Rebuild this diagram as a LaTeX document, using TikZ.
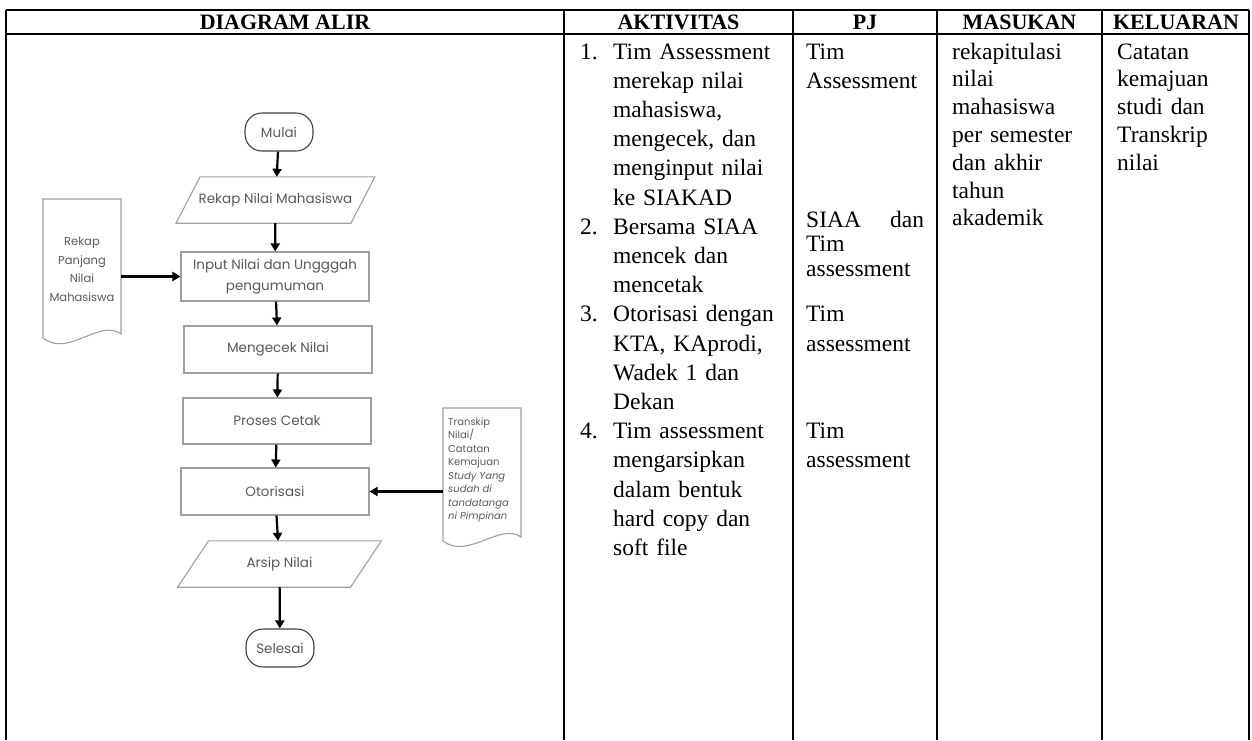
\documentclass[tikz,border=0pt]{standalone}
\usepackage{fontspec}
\setmainfont{Liberation Serif}
\newfontfamily\flowfont{Poppins}
\usetikzlibrary{arrows.meta}

\tikzset{
  tableline/.style={line width=2.6pt},
  hdr/.style={font=\bfseries\fontsize{22}{26}\selectfont, inner sep=0pt, anchor=base},
  cell/.style={font=\fontsize{23.5}{29.2}\selectfont, inner sep=0pt, anchor=base west, align=left},
  txtcol/.style={cell, text width=#1},
  flowbox/.style={draw=gray!75, line width=1.1pt, text=black!65, font=\flowfont\fontsize{13.5}{21}\selectfont,
    minimum width=188pt, align=center, inner sep=0pt},
  iobox/.style={text=black!65, font=\flowfont\fontsize{13.5}{21}\selectfont, minimum height=46pt, inner sep=0pt},
  ioline/.style={draw=gray!75, line width=1.1pt},
  terminal/.style={draw=black!75, line width=1.1pt, rounded corners=17pt, minimum width=68pt, minimum height=38pt,
    text=black!65, font=\flowfont\fontsize{13.5}{15}\selectfont, inner sep=0pt},
  docnode/.style={text=black!65, inner sep=0pt},
  flowarrow/.style={line width=2.2pt, -{Triangle[length=8pt,width=9pt]}}
}

\begin{document}
\begin{tikzpicture}[x=1pt,y=-1pt]
\useasboundingbox (0,0) rectangle (1252,740);

% table frame
\draw[tableline] (6,10) -- (1249,10);
\draw[tableline] (6,34) -- (1249,34);
\draw[tableline] (6,10) -- (6,740);
\draw[tableline] (564,10) -- (564,740);
\draw[tableline] (793,10) -- (793,740);
\draw[tableline] (937,10) -- (937,740);
\draw[tableline] (1102,10) -- (1102,740);
\draw[tableline] (1249,10) -- (1249,740);

% header row
\node[hdr] (hdiagram) at (285,29.5) {DIAGRAM ALIR};
\node[hdr] (haktivitas) at (678.5,29.5) {AKTIVITAS};
\node[hdr] (hpj) at (865,29.5) {PJ};
\node[hdr] (hmasukan) at (1019.5,29.5) {MASUKAN};
\node[hdr] (hkeluaran) at (1176,29.5) {KELUARAN};

% aktivitas
\node[cell] (num1) at (580,59) {1.};
\node[txtcol=178] (akt1) at (613,59) {Tim Assessment\\merekap nilai\\mahasiswa,\\mengecek, dan\\menginput nilai\\ke SIAKAD};
\node[cell] (num2) at (580,234.2) {2.};
\node[txtcol=178] (akt2) at (613,234.2) {Bersama SIAA\\mencek dan\\mencetak};
\node[cell] (num3) at (580,321.8) {3.};
\node[txtcol=178] (akt3) at (613,321.8) {Otorisasi dengan\\KTA, KAprodi,\\Wadek 1 dan\\Dekan};
\node[cell] (num4) at (580,438.6) {4.};
\node[txtcol=178] (akt4) at (613,438.6) {Tim assessment\\mengarsipkan\\dalam bentuk\\hard copy dan\\soft file};

% pj
\node[txtcol=125] (pj1) at (806,59) {Tim\\Assessment};
\node[txtcol=118, font=\fontsize{23.5}{24.5}\selectfont] (pj2) at (806,227) {SIAA\hfill dan\\Tim\\assessment};
\node[txtcol=125] (pj3) at (806,321.8) {Tim\\assessment};
\node[txtcol=125] (pj4) at (806,438.6) {Tim\\assessment};

% masukan, keluaran
\node[txtcol=150, font=\fontsize{23.5}{27.8}\selectfont] (masukan) at (952,59)
  {rekapitulasi\\nilai\\mahasiswa\\per semester\\dan akhir\\tahun\\akademik};
\node[txtcol=130, font=\fontsize{23.5}{27.8}\selectfont] (keluaran) at (1117,59)
  {Catatan\\kemajuan\\studi dan\\Transkrip\\nilai};

% diagram alir
\node[terminal] (mulai) at (279,132) {Mulai};
\node[iobox, minimum width=174.5pt] (rekap) at (275.5,200) {Rekap Nilai Mahasiswa};
\draw[ioline] ([xshift=12pt]rekap.north west) -- ([xshift=12pt]rekap.north east)
  -- ([xshift=-12pt]rekap.south east) -- ([xshift=-12pt]rekap.south west) -- cycle;
\node[flowbox, minimum height=49pt] (input) at (275,276.5) {Input Nilai dan Ungggah\\pengumuman};
\node[flowbox, minimum height=47pt] (cek) at (278,349.5) {Mengecek Nilai};
\node[flowbox, minimum height=46pt] (cetak) at (277,421) {Proses Cetak};
\node[flowbox, minimum height=47pt] (otor) at (275,491.5) {Otorisasi};
\node[iobox, minimum width=172.5pt] (arsip) at (279.5,564) {Arsip Nilai};
\draw[ioline] ([xshift=15.5pt]arsip.north west) -- ([xshift=15.5pt]arsip.north east)
  -- ([xshift=-15.5pt]arsip.south east) -- ([xshift=-15.5pt]arsip.south west) -- cycle;
\node[terminal] (selesai) at (280,648) {Selesai};

% dokumen
\node[docnode, align=center, font=\flowfont\fontsize{11.5}{18.5}\selectfont] (rpn) at (82,269.5)
  {Rekap\\Panjang\\Nilai\\Mahasiswa};
\draw[ioline] (43,199) -- (121,199) -- (121,334) .. controls (100,318) and (68,358) .. (43,338) -- cycle;
\node[docnode, align=left, anchor=west, font=\flowfont\fontsize{10}{13.5}\selectfont] (tsk) at (448,470)
  {Transkip\\Nilai/\\Catatan\\Kemajuan\\\textit{Study Yang}\\\textit{sudah di}\\\textit{tandatanga}\\\textit{ni Pimpinan}};
\draw[ioline] (443,408) -- (521,408) -- (521,537) .. controls (500,522) and (468,560) .. (443,541) -- cycle;
\coordinate (rpnout) at (121,276.5);
\coordinate (tskout) at (443,491.5);

% panah
\draw[flowarrow] (mulai) -- (rekap);
\draw[flowarrow] (rekap) -- (input);
\draw[flowarrow] (input) -- (cek);
\draw[flowarrow] (cek) -- (cetak);
\draw[flowarrow] (cetak) -- (otor);
\draw[flowarrow] (otor) -- (arsip);
\draw[flowarrow] (arsip) -- (selesai);
\draw[flowarrow] (rpnout) -- (input.west);
\draw[flowarrow] (tskout) -- (otor.east);
\end{tikzpicture}
\end{document}
